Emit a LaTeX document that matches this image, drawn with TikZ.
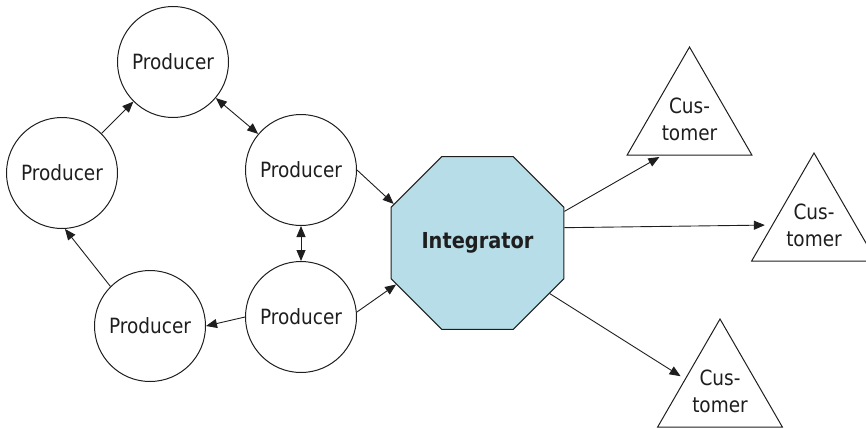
\documentclass[tikz,border=0pt]{standalone}
\usepackage{fontspec}
\setmainfont[FakeStretch=0.88]{DejaVu Sans}
\usepackage{tikz}
\usetikzlibrary{shapes.geometric,arrows.meta}
\definecolor{integratorblue}{RGB}{183,221,232}
\definecolor{inkgray}{RGB}{30,30,30}

\begin{document}
\begin{tikzpicture}[
		x=1pt, y=-1pt,
		producer/.style={circle, draw=inkgray, line width=1pt, minimum size=111pt, inner sep=0pt, text=inkgray, font=\nodefont},
		integrator/.style={regular polygon, regular polygon sides=8, draw=inkgray, line width=1pt, fill=integratorblue, minimum size=187pt, inner sep=0pt, text=inkgray, font=\fontsize{22}{27}\selectfont\bfseries},
		customer/.style={regular polygon, regular polygon sides=3, draw=inkgray, line width=1pt, minimum size=144pt, inner sep=-6pt, align=center, text=inkgray, font=\nodefont},
		flow/.style={draw=inkgray, line width=0.9pt, -{Triangle[length=11pt,width=9pt]}},
		twoway/.style={flow, {Triangle[length=11pt,width=9pt]}-{Triangle[length=11pt,width=9pt]}},
		]

		\def\nodefont{\fontsize{21}{27}\selectfont}

		\useasboundingbox (0,0) rectangle (866,428);

		% producers
		\node[producer] (topprod)    at (173,62)  {Producer};
		\node[producer] (leftprod)   at (62,173)  {Producer};
		\node[producer] (upperprod)  at (301,170) {Producer};
		\node[producer] (lowerprod)  at (301,317) {Producer};
		\node[producer] (bottomprod) at (150,326) {Producer};

		\node[integrator] (integrator) at (477.5,243) {Integrator};

		% customers
		\node[customer] (cust1) at (689.5,119) {Cus-\\tomer};
		\node[customer] (cust2) at (814,225)   {Cus-\\tomer};
		\node[customer] (cust3) at (720,391)   {Cus-\\tomer};

		\draw[flow]   (leftprod) -- (topprod);
		\draw[twoway] (topprod) -- (upperprod);
		\draw[twoway] (upperprod) -- (lowerprod);
		\draw[flow]   (lowerprod.west) -- (bottomprod.east);
		\draw[flow]   (bottomprod.135) -- (leftprod.273);

		\draw[flow] (upperprod.east) -- (integrator.155);
		\draw[flow] (lowerprod.5) -- (integrator.207);

		\draw[flow, shorten >=3pt] (integrator.20) -- (cust1.233);
		\draw[flow, shorten >=7pt] (integrator.10) -- (cust2.180);
		\draw[flow, shorten >=5pt] (integrator.-35) -- (cust3.161);

	\end{tikzpicture}
\end{document}
